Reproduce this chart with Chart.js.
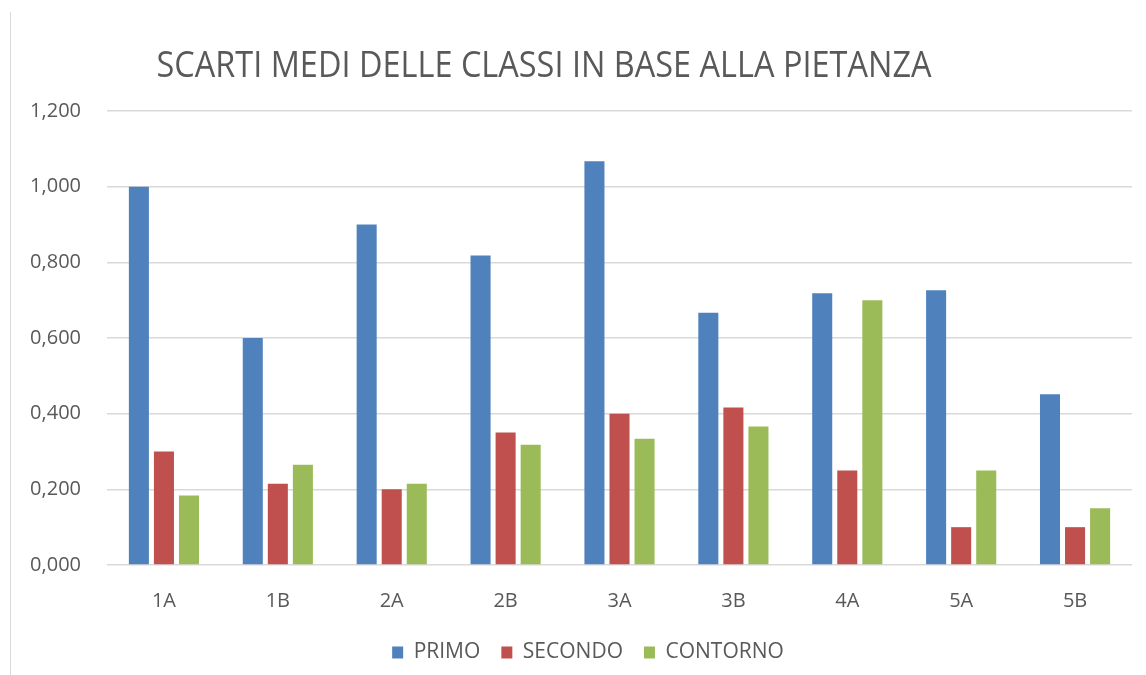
<!DOCTYPE html>
<html>
<head>
<meta charset="utf-8">
<script src="https://cdn.jsdelivr.net/npm/chart.js@4"></script>
<style>
  body { margin: 0; background: #fff; }
  #wrap { position: relative; width: 1146px; height: 675px; overflow: hidden; }
  #edge { position: absolute; left: 10px; top: 12px; bottom: 0; border-left: 1px solid #d9d9d9; }
</style>
</head>
<body>
<div id="wrap">
  <div id="edge"></div>
  <canvas id="chart" width="1146" height="675"></canvas>
</div>
<script>
// data
const categories = ["1A", "1B", "2A", "2B", "3A", "3B", "4A", "5A", "5B"];
const primo = [1.0, 0.6, 0.9, 0.818, 1.067, 0.667, 0.718, 0.726, 0.451];
const secondo = [0.3, 0.215, 0.2, 0.35, 0.4, 0.416, 0.25, 0.1, 0.1];
const contorno = [0.184, 0.265, 0.215, 0.318, 0.334, 0.366, 0.7, 0.25, 0.15];
const yMin = 0;
const yMax = 1.2;
const yStep = 0.2;
const titleText = "SCARTI MEDI DELLE CLASSI IN BASE ALLA PIETANZA";

const textColor = "#595959";
const fontFamily = "'Open Sans', sans-serif";

// title is drawn by hand so it can sit left of centre like the original
const titlePlugin = {
  id: "manualTitle",
  afterLayout(chart) {
    // legend sits a bit right of the canvas centre in the original
    if (chart.legend) chart.legend.left += 44;
  },
  afterDraw(chart) {
    const ctx = chart.ctx;
    ctx.save();
    ctx.font = "36px " + fontFamily;
    ctx.fillStyle = textColor;
    ctx.textBaseline = "alphabetic";
    const w = ctx.measureText(titleText).width;
    const targetW = 775;
    const sx = targetW / w;
    ctx.translate(544 - targetW / 2, 77);
    ctx.scale(sx, 1);
    ctx.fillText(titleText, 0, 0);
    ctx.restore();
  },
};

new Chart(document.getElementById("chart"), {
  type: "bar",
  data: {
    labels: categories,
    datasets: [
      { label: "PRIMO", data: primo, backgroundColor: "#4f81bd" },
      { label: "SECONDO", data: secondo, backgroundColor: "#c0504d" },
      { label: "CONTORNO", data: contorno, backgroundColor: "#9bbb59" },
    ],
  },
  options: {
    responsive: false,
    animation: false,
    categoryPercentage: 0.66,
    barPercentage: 0.8,
    layout: { padding: { top: 111, right: 14, bottom: 2, left: 0 } },
    plugins: {
      title: { display: false },
      tooltip: { enabled: false },
      legend: {
        position: "bottom",
        labels: {
          color: textColor,
          font: { family: fontFamily, size: 21 },
          boxWidth: 11,
          boxHeight: 12,
          padding: 21,
        },
      },
    },
    scales: {
      x: {
        grid: { display: false, drawTicks: false },
        border: { display: false },
        ticks: {
          color: textColor,
          font: { family: fontFamily, size: 20 },
          padding: 24,
        },
        afterFit(scale) {
          scale.height = 56;
        },
      },
      y: {
        min: yMin,
        max: yMax,
        grid: { color: "#d9d9d9", lineWidth: 1.5, drawTicks: false },
        border: { display: false },
        ticks: {
          stepSize: yStep,
          color: textColor,
          font: { family: fontFamily, size: 20 },
          padding: 26,
          callback: (v) => Number(v).toFixed(3).replace(".", ","),
        },
        afterFit(scale) {
          scale.width = 107;
        },
      },
    },
  },
  plugins: [titlePlugin],
});
</script>
</body>
</html>
